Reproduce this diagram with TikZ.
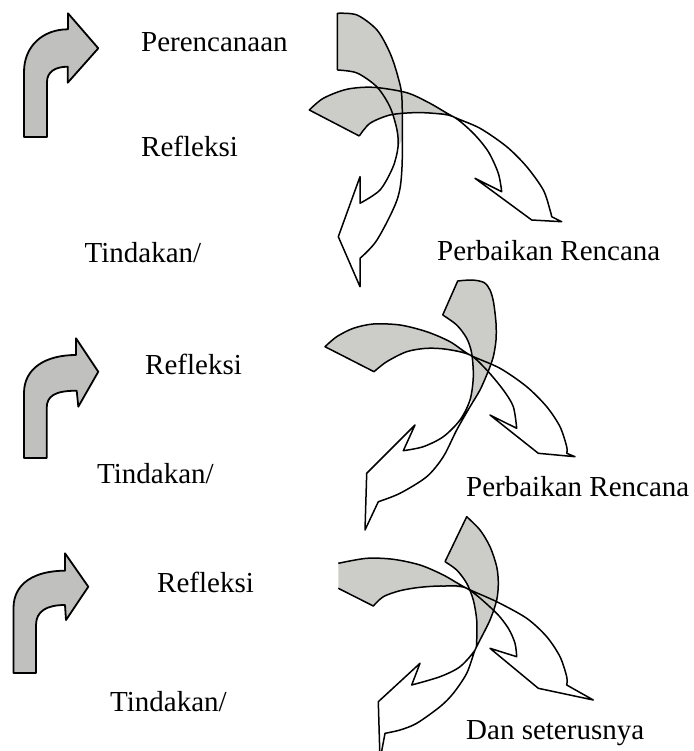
\documentclass[tikz,border=0pt]{standalone}
\usepackage{fontspec}
\setmainfont{Liberation Serif}
\usetikzlibrary{positioning}
\definecolor{bentgrey}{RGB}{192,192,190}
\definecolor{bandgrey}{RGB}{204,204,200}

\begin{document}
\begin{tikzpicture}[
  x=1pt, y=-1pt,
  lbl/.style={font=\fontsize{29}{34}\selectfont, anchor=base west, inner sep=0pt},
  bent/.style={draw, line width=1.8pt, fill=bentgrey, line join=round},
  band/.style={fill=bandgrey},
  rim/.style={draw, line width=1.5pt, line join=round},
]
\useasboundingbox (0,0) rectangle (693,751);
\clip (0,0) rectangle (693,751);

\draw[bent] (24,137) -- (24,72) .. controls (24,46) and (43,29.3) .. (68,29.3)
  -- (68,13.3) -- (98.3,48.3) -- (67.7,82.7) -- (67.7,66.7)
  .. controls (55,66.7) and (47,72) .. (47,82) -- (47,137) -- cycle;
\draw[bent] (24,458) -- (24,393) .. controls (24,368) and (46,355) .. (76,355)
  -- (76,338.3) -- (98.3,371.7) -- (78.3,406.7) -- (76.7,390.7)
  .. controls (55,390.7) and (46.7,396) .. (46.7,408) -- (46.7,458) -- cycle;
\draw[bent] (13.5,673) -- (13.5,608) .. controls (13.5,583) and (35,570.7) .. (65,570.7)
  -- (65,553.3) -- (88.3,586.7) -- (66,620) -- (65,605)
  .. controls (47,605) and (36,611) .. (36,625) -- (36,673) -- cycle;

\node[lbl] (plan)  at (141,52)  {Perencanaan};
\node[lbl] (refl1) at (141,157) {Refleksi};
\node[lbl] (act1)  at (84.5,262) {Tindakan/};
\node[lbl] (fix1)  at (437,260) {Perbaikan Rencana};
\node[lbl] (refl2) at (145,374) {Refleksi};
\node[lbl] (act2)  at (97,483)  {Tindakan/};
\node[lbl] (fix2)  at (466,496) {Perbaikan Rencana};
\node[lbl] (refl3) at (157,592) {Refleksi};
\node[lbl] (act3)  at (110,711) {Tindakan/};
\node[lbl] (next)  at (466,739) {Dan seterusnya};

\fill[band] plot[smooth] coordinates {(337.3,13.3) (357,15) (377,30) (390,53) (398,77) (402,100) (402,140)}
  -- plot[smooth] coordinates {(398,147) (397,130) (390,107) (377,87) (357,73) (337.3,70)} -- cycle;
\fill[band] plot[smooth] coordinates {(309.3,110) (323.3,98.3) (346.7,89.3) (373.3,87.3) (406.7,92.7) (430,103.3) (453.3,116.7)}
  -- plot[smooth] coordinates {(433.3,113.3) (413.3,112.7) (390,115) (370,123.3) (359.3,136)} -- cycle;
\draw[rim] (337.3,70) -- plot[smooth] coordinates {(337.3,13.3) (357,15) (377,30) (390,53) (398,77) (402,100)
  (402,167) (397,200) (377,240) (360,258.3)}
  -- (360,286.7) -- (338.3,236.7) -- (360,176.7)
  -- plot[smooth] coordinates {(360,203.3) (380,190) (393,167) (398,147) (397,130) (390,107) (377,87) (357,73) (337.3,70)};
\draw[rim] (359.3,136) -- plot[smooth] coordinates {(309.3,110) (323.3,98.3) (346.7,89.3) (373.3,87.3) (406.7,92.7)
  (430,103.3) (453.3,116.7) (480,128.3) (506.7,146.7) (526.7,166.7) (543.3,190) (550,210) (551.7,216.7)}
  -- (561.7,221.7) -- (531.7,220) -- (475,178.3)
  -- plot[smooth] coordinates {(501.7,191.7) (498.3,173.3) (488.3,151.7) (473.3,133.3) (453.3,116.7) (433.3,113.3)
  (413.3,112.7) (390,115) (370,123.3) (359.3,136)};

\fill[band] plot[smooth] coordinates {(457.7,281) (472,280) (484,282.5) (490,290) (493.5,302) (496,323) (496,340)
  (493.3,356.7) (488.3,371) (480,390) (472,403)}
  -- plot[smooth] coordinates {(471,398) (473.3,376.7) (471.7,353.3) (466.7,338.3) (456.7,325) (442.7,315)} -- cycle;
\fill[band] plot[smooth] coordinates {(325,346.7) (336.7,336.7) (353.3,328.3) (373.3,324) (400,325) (426.7,331.7) (450,341.7) (470,355)}
  -- plot[smooth] coordinates {(446.7,349.3) (426.7,348.3) (406.7,351.7) (386.7,361.7) (374,371.7)} -- cycle;
\draw[rim] (442.7,315) -- plot[smooth] coordinates {(457.7,281) (472,280) (484,282.5) (490,290) (493.5,302) (496,323)
  (496,340) (493.3,356.7) (488.3,371) (480,390) (470,406.7) (456.7,430) (443.3,456.7) (426.7,476.7) (400,493.3) (378.3,501.7)}
  -- (365,530) -- (366.7,473.3) -- (415,425)
  -- plot[smooth] coordinates {(403.3,450.7) (423.3,446.7) (443.3,436.7) (460,420) (470,400) (473.3,376.7)
  (471.7,353.3) (466.7,338.3) (456.7,325) (442.7,315)};
\draw[rim] (374,371.7) -- plot[smooth] coordinates {(325,346.7) (336.7,336.7) (353.3,328.3) (373.3,324) (400,325)
  (426.7,331.7) (450,341.7) (470,355) (500,368.3) (526.7,386.7) (546.7,406.7) (560,426.7) (566.7,446.7) (566.7,453.3)}
  -- (575,456.7) -- (538.3,453.3) -- (490,415)
  -- plot[smooth] coordinates {(516.7,428.3) (513.3,406.7) (503.3,390) (486.7,370) (470,355) (446.7,349.3)
  (426.7,348.3) (406.7,351.7) (386.7,361.7) (374,371.7)};

\fill[band] plot[smooth] coordinates {(466.7,516.7) (480,530) (490,546.7) (496.7,566.7) (498.3,583.3) (496.7,600)
  (490,620) (480,640) (475,650)}
  -- plot[smooth] coordinates {(476.7,640) (476.7,620) (473.3,600) (466.7,583.3) (456.7,570) (445,561.7)} -- cycle;
\fill[band] (338.3,588.3) -- plot[smooth] coordinates {(338.3,563.3) (366.7,558.3) (393.3,559.3) (420,565) (443.3,575) (466.7,588.3)}
  -- plot[smooth] coordinates {(443.3,586) (420,587.3) (400,590.7) (383.3,596.7) (373.3,606)} -- cycle;
\draw[rim] (445,561.7) -- plot[smooth] coordinates {(466.7,516.7) (480,530) (490,546.7) (496.7,566.7) (498.3,583.3)
  (496.7,600) (490,620) (480,640) (475,650) (466.7,673.3) (453.3,693.3) (440,706.7) (416.7,723.3) (400,730) (385,733.3)}
  -- (380,760) -- (378.3,701.7) -- (420,663.3)
  -- plot[smooth] coordinates {(411.7,685) (440,676.7) (460,666.7) (475,650) (476.7,640) (476.7,620) (473.3,600)
  (466.7,583.3) (456.7,570) (445,561.7)};
\draw[rim] (338.3,588.3) -- plot[smooth] coordinates {(373.3,606) (383.3,596.7) (400,590.7) (420,587.3) (443.3,586)
  (466.7,588.3) (495,611.7) (508.3,628.3) (515,643.3) (516.7,656.7)}
  -- (490,648.3) -- (538.3,688.3) -- (593.3,700)
  -- plot[smooth] coordinates {(566.7,685) (566.7,676.7) (560,656.7) (546.7,636.7) (526.7,618.3) (496.7,601.7)
  (466.7,588.3) (443.3,575) (420,565) (393.3,559.3) (366.7,558.3) (338.3,563.3)};
\end{tikzpicture}
\end{document}
